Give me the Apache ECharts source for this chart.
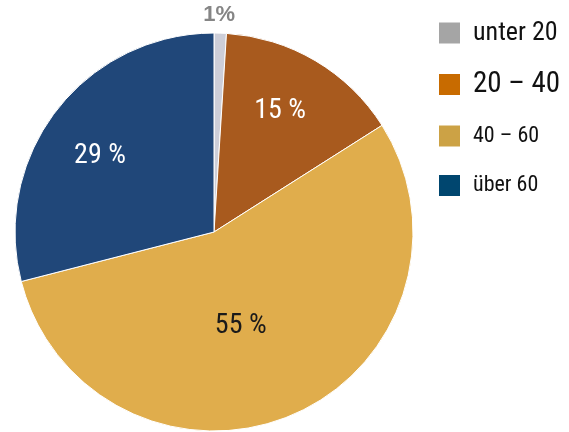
<!DOCTYPE html>
<html>
<head>
<meta charset="utf-8">
<script src="https://cdn.jsdelivr.net/npm/echarts@6/dist/echarts.min.js"></script>
<style>
  html, body { margin: 0; padding: 0; background: #fff; }
  #mainBox { width: 569px; height: 432px; }
</style>
</head>
<body>
<div id="mainBox"></div>
<script>
// Daten
var categories = ['unter 20', '20 – 40', '40 – 60', 'über 60'];
var values = [1, 15, 55, 29];
var sliceColors = ['#cdced8', '#a85a1e', '#e0ad4c', '#204779'];
var legendColors = ['#a5a5a5', '#c86b00', '#cca245', '#00466f'];
var legendSizes = [26, 29, 22, 22];
var legendLineHeights = [23, 23, 26, 23];
var labelColors = ['#858585', '#ffffff', '#1a1a1a', '#ffffff'];
// Verschiebung der Beschriftungen
var labelShift = [[2, -115], [14, -33], [-14, 0], [-33, -13]];

var FONT = '"Roboto Condensed", "DejaVu Sans Condensed", sans-serif';

var myChart = echarts.init(document.getElementById('mainBox'));

var option = {
    animation: false,
    legend: {
        orient: 'vertical',
        left: 432,
        top: 15,
        itemWidth: 23,
        itemHeight: 23,
        itemGap: 24,
        icon: 'rect',
        selectedMode: false,
        data: categories.map(function (c, i) {
            return {
                name: c,
                itemStyle: { color: legendColors[i] },
                textStyle: {
                    fontSize: legendSizes[i],
                    lineHeight: legendLineHeights[i],
                    fontFamily: FONT,
                    color: '#111',
                    padding: [0, 0, 0, 7]
                }
            };
        })
    },
    series: [{
        type: 'pie',
        center: [214, 232],
        radius: 199,
        startAngle: 90,
        clockwise: true,
        silent: true,
        itemStyle: { borderColor: '#fff', borderWidth: 1 },
        label: {
            show: true,
            position: 'inside',
            fontFamily: FONT,
            fontSize: 28,
            formatter: function (p) { return p.dataIndex === 0 ? p.value + '%' : p.value + ' %'; }
        },
        labelLine: { show: false },
        labelLayout: function (p) {
            var s = labelShift[p.dataIndex];
            return { dx: s[0], dy: s[1] };
        },
        data: categories.map(function (c, i) {
            var item = {
                name: c,
                value: values[i],
                itemStyle: { color: sliceColors[i] },
                label: { color: labelColors[i] }
            };
            if (i === 0) {
                item.label = {
                    color: labelColors[i],
                    fontSize: 22,
                    fontWeight: 'bold',
                    fontFamily: '"Liberation Sans", sans-serif'
                };
            }
            return item;
        })
    }]
};

myChart.setOption(option);
</script>
</body>
</html>
